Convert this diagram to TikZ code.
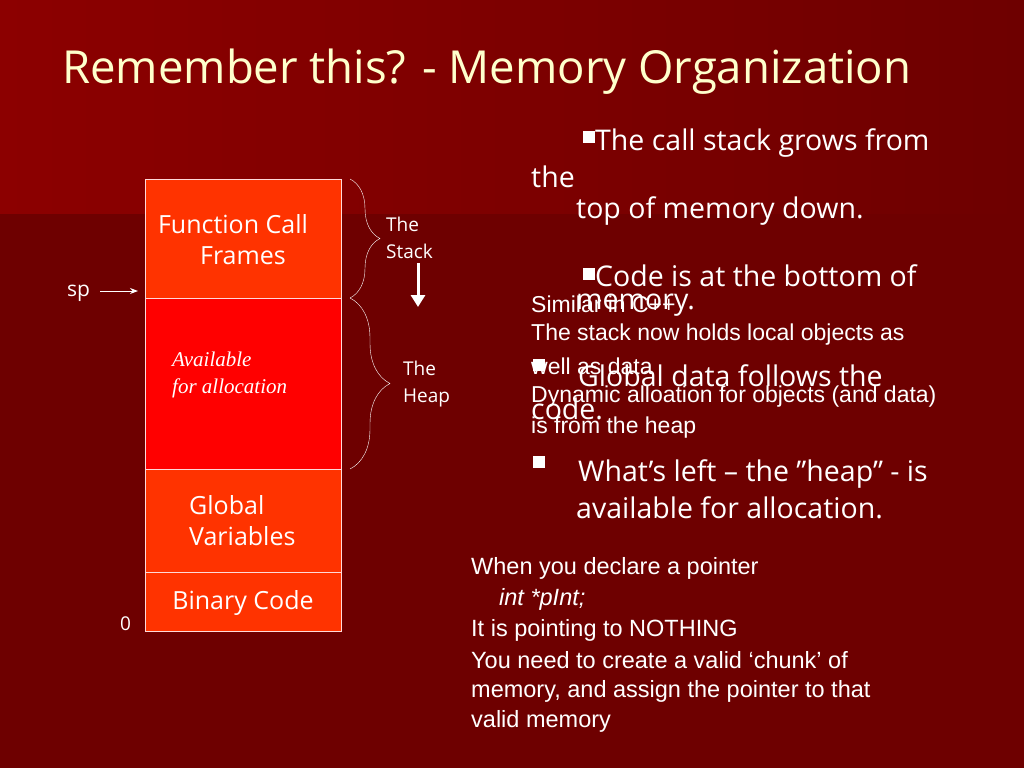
\documentclass[tikz,border=0pt]{standalone}
\usepackage{fontspec}
\setmainfont{Open Sans}
\newfontfamily\arialfont{Liberation Sans}
\newfontfamily\availfont{Liberation Serif}
\usepackage{xcolor}
\usetikzlibrary{arrows.meta,decorations.pathreplacing,positioning}
\definecolor{slidebg}{HTML}{6E0000}
\definecolor{slidetop}{HTML}{8C0000}
\definecolor{titlecol}{HTML}{FFFFCC}
\definecolor{frameorange}{HTML}{FF3300}
\definecolor{heapred}{HTML}{FF0000}
\tikzset{
  memblock/.style={draw=white!85!red, line width=0.8pt, minimum width=196pt, anchor=north west, inner sep=0pt},
  label/.style={text=white, anchor=west, inner sep=0pt, align=left},
  bullettxt/.style={label, font=\fontsize{28.5}{33}\selectfont},
  ctext/.style={label, font=\arialfont\fontsize{23}{27}\selectfont},
  ptext/.style={label, font=\arialfont\fontsize{23.5}{27}\selectfont},
  sq/.style={label, font=\fontsize{28.5}{33}\selectfont}
}
\newcommand{\sqbullet}{\raisebox{7pt}{\rule{12pt}{12pt}}}
\begin{document}
\begin{tikzpicture}[x=1pt,y=-1pt]
    \useasboundingbox (0,0) rectangle (1024,768);
    % Background
    \fill[slidebg] (0,0) rectangle (1024,768);
    \shade[left color=slidetop, right color=slidebg] (0,0) rectangle (1024,213);

    % Title
    \node[label, text=titlecol, font=\fontsize{45.5}{52}\selectfont] (title) at (62,72) {Remember this? - Memory Organization};

    % Memory column
    \node[memblock, fill=frameorange, minimum height=119pt] (frames) at (145,179) {};
    \node[memblock, fill=heapred, minimum height=171pt] (avail) at (145,298) {};
    \node[memblock, fill=frameorange, minimum height=103pt] (globals) at (145,469) {};
    \node[memblock, fill=frameorange, minimum height=59pt] (code) at (145,572) {};

    \node[text=white, align=center, inner sep=0pt, font=\fontsize{25}{31}\selectfont] (framestxt) at (233,240) {Function Call\\\hspace*{20pt}Frames};
    \node[label, font=\availfont\itshape\fontsize{21}{27}\selectfont] (availtxt) at (172,375) {Available\\for allocation};
    \node[label, font=\fontsize{25}{31}\selectfont] (globtxt) at (189,521) {Global\\Variables};
    \node[text=white, inner sep=0pt, font=\fontsize{25}{31}\selectfont] (codetxt) at (243,603) {Binary Code};

    % Markers
    \node[label, font=\fontsize{21}{24}\selectfont] (sp) at (67,293) {sp};
    \coordinate (sptip) at (138,291);
    \draw[white, line width=1pt, -{Stealth[length=8pt]}] (sp.east) ++(10,-2) -- (sptip);
    \node[label, font=\fontsize{19}{24}\selectfont] (zero) at (120,624) {0};

    % Braces
    \draw[white, decorate, decoration={brace, amplitude=30pt}] (350,179) -- (350,298);
    \draw[white, decorate, decoration={brace, amplitude=40pt}] (350,298) -- (350,469);
    \node[label, font=\fontsize{19}{27}\selectfont] (stacktxt) at (386,238) {The\\Stack};
    \node[label, font=\fontsize{19}{27}\selectfont] (heaptxt) at (403,384) {The\\Heap};
    \coordinate (growtop) at (418,263);
    \coordinate (growbot) at (418,307);
    \draw[white, line width=3pt, -{Triangle[length=12pt,width=14pt]}] (growtop) -- (growbot);

    % Bullets
    \node[bullettxt] (b1a) at (583,143) {\sqbullet The call stack grows from};
    \node[bullettxt] (b1b) at (531,177) {the};
    \node[bullettxt] (b1c) at (576,211) {top of memory down.};
    \node[bullettxt] (b2a) at (583,276) {\sqbullet Code is at the bottom of};
    \node[bullettxt] (b2b) at (576,305) {memory.};
    \node[sq] (b3s) at (533,368) {\sqbullet};
    \node[bullettxt] (b3a) at (578,376) {Global data follows the};
    \node[bullettxt] (b3b) at (531,409) {code.};
    \node[sq] (b4s) at (533,465) {\sqbullet};
    \node[bullettxt] (b4a) at (578,474) {What\char"27 s left -- the \char"22 heap\char"22\ - is};
    \node[bullettxt] (b4b) at (576,508) {available for allocation.};

    % C++ note
    \node[ctext] (cpp) at (531,304) {Similar in C++};
    \node[ctext] (cpp2) at (531,335) {The stack now holds local objects as};
    \node[ctext] (cpp3) at (531,366) {well as data};
    \node[ctext] (cpp4) at (531,397) {Dynamic alloation for objects (and data)};
    \node[ctext] (cpp5) at (531,428) {is from the heap};

    % Pointer note
    \node[ptext] (ptr1) at (471,568) {When you declare a pointer};
    \node[ptext, font=\arialfont\itshape\fontsize{23.5}{27}\selectfont] (ptr2) at (499,599) {int *pInt;};
    \node[ptext] (ptr3) at (471,630) {It is pointing to NOTHING};
    \node[ptext] (ptr4) at (471,660) {You need to create a valid ‘chunk’ of};
    \node[ptext] (ptr5) at (471,691) {memory, and assign the pointer to that};
    \node[ptext] (ptr6) at (471,721) {valid memory};
\end{tikzpicture}
\end{document}
